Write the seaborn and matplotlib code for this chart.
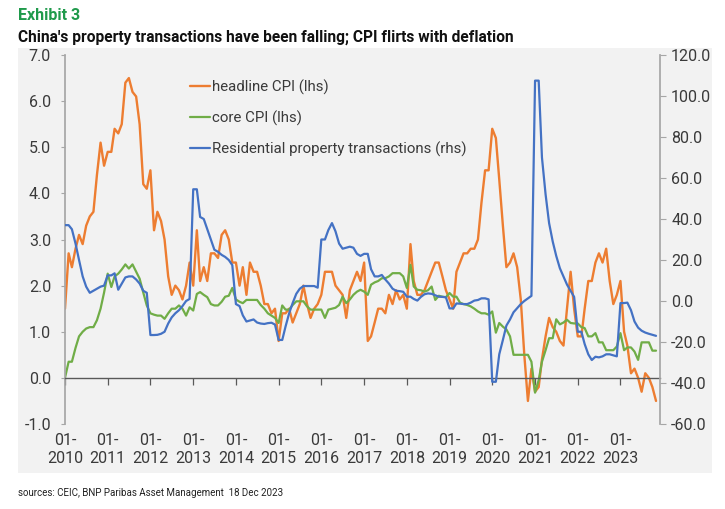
import matplotlib
matplotlib.use("Agg")
import matplotlib.pyplot as plt
import matplotlib.ticker as mticker
from matplotlib.patches import Rectangle
import seaborn as sns
import pandas as pd

# Data: monthly, Jan 2010 .. Nov 2023
start_month = "2010-01-01"

headline_cpi = [
    1.5, 2.7, 2.4, 2.8, 3.1, 2.9, 3.3, 3.5, 3.6, 4.4, 5.1, 4.6,
    4.9, 4.9, 5.4, 5.3, 5.5, 6.4, 6.5, 6.2, 6.1, 5.5, 4.2, 4.1,
    4.5, 3.2, 3.6, 3.4, 3.0, 2.2, 1.8, 2.0, 1.9, 1.7, 2.0, 2.5,
    2.0, 3.2, 2.1, 2.4, 2.1, 2.7, 2.7, 2.6, 3.1, 3.2, 3.0, 2.5,
    2.5, 2.0, 2.4, 1.8, 2.5, 2.3, 2.3, 2.0, 1.6, 1.6, 1.4, 1.5,
    0.8, 1.4, 1.4, 1.5, 1.2, 1.4, 1.6, 2.0, 1.6, 1.3, 1.5, 1.6,
    1.8, 2.3, 2.3, 2.3, 2.0, 1.9, 1.8, 1.3, 1.9, 2.1, 2.3, 2.1,
    2.5, 0.8, 0.9, 1.2, 1.5, 1.5, 1.4, 1.8, 1.6, 1.9, 1.7, 1.8,
    1.5, 2.9, 2.1, 1.8, 1.8, 1.9, 2.1, 2.3, 2.5, 2.5, 2.2, 1.9,
    1.7, 1.5, 2.3, 2.5, 2.7, 2.7, 2.8, 2.8, 3.0, 3.8, 4.5, 4.5,
    5.4, 5.2, 4.3, 3.3, 2.4, 2.5, 2.7, 2.4, 1.7, 0.5, -0.5, 0.2,
    -0.3, -0.2, 0.4, 0.9, 1.3, 1.1, 1.0, 0.8, 0.7, 1.5, 2.3, 1.5,
    0.9, 0.9, 1.5, 2.1, 2.1, 2.5, 2.7, 2.5, 2.8, 2.1, 1.6, 1.8,
    2.1, 1.0, 0.7, 0.1, 0.2, 0.0, -0.3, 0.1, 0.0, -0.2, -0.5,
]

core_cpi = [
    0.0, 0.35, 0.35, 0.65, 0.9, 1.0, 1.07, 1.1, 1.1, 1.25, 1.5, 1.85,
    2.26, 1.97, 2.2, 2.26, 2.35, 2.46, 2.37, 2.46, 2.3, 2.15, 1.85, 1.57,
    1.4, 1.37, 1.35, 1.35, 1.28, 1.4, 1.5, 1.5, 1.57, 1.5, 1.35, 1.53,
    1.46, 1.82, 1.86, 1.8, 1.75, 1.6, 1.57, 1.57, 1.65, 1.76, 1.78, 1.95,
    1.7, 1.65, 1.62, 1.69, 1.69, 1.69, 1.69, 1.58, 1.5, 1.4, 1.35, 1.3,
    1.19, 1.57, 1.48, 1.48, 1.58, 1.66, 1.66, 1.66, 1.55, 1.48, 1.48, 1.48,
    1.48, 1.3, 1.48, 1.5, 1.52, 1.58, 1.76, 1.62, 1.7, 1.8, 1.87, 1.91,
    1.87, 1.8, 2.02, 2.07, 2.1, 2.16, 2.16, 2.2, 2.27, 2.27, 2.27, 2.2,
    1.95, 2.45, 1.98, 1.91, 1.9, 1.87, 1.9, 1.98, 1.69, 1.78, 1.76, 1.75,
    1.84, 1.76, 1.76, 1.63, 1.6, 1.58, 1.55, 1.5, 1.44, 1.4, 1.4, 1.37,
    1.44, 0.98, 1.19, 1.11, 1.05, 0.9, 0.5, 0.5, 0.5, 0.5, 0.5, 0.35,
    -0.32, -0.05, 0.35, 0.6, 0.86, 0.86, 1.27, 1.16, 1.2, 1.26, 1.19, 1.18,
    1.18, 1.1, 1.08, 0.9, 0.9, 0.97, 0.77, 0.77, 0.6, 0.6, 0.6, 0.68,
    0.97, 0.6, 0.66, 0.66, 0.57, 0.39, 0.77, 0.77, 0.77, 0.59, 0.59,
]

property_tx = [
    37, 37, 35, 28, 20, 12, 7, 4, 5, 6, 7, 7.5,
    12.5, 12.5, 13.5, 5.5, 8.5, 11.5, 12, 12, 10.5, 8.5, 5, 4,
    -16.6, -16.6, -16.5, -16, -15, -11, -8, -6, -4.5, -2.5, 0, 1,
    54.5, 54.5, 41, 40, 35, 30, 25, 24, 22.5, 21.5, 20, 17.5,
    -1.5, -2.5, -7, -10, -9.5, -9, -10.5, -11, -11.2, -10.8, -10.6, -11.5,
    -19, -19, -12.5, -6, -1, 3.5, 6, 7.3, 7.3, 7.3, 7.3, 6.5,
    30, 30, 34.6, 38, 34, 28, 25.5, 26, 26.5, 26, 23, 22,
    23, 23, 15.5, 12, 12, 12.7, 10.5, 8.5, 6, 5, 4.8, 4.5,
    2.1, 2.1, 1, 0.2, 2, 3.3, 3.7, 3.5, 2.8, 2.1, 2, 1.8,
    -3.6, -3.6, -1.2, -1.3, -1.5, -1.5, -0.8, 0.2, 0.5, 1.3, 1.3, 0.8,
    -39.4, -39.4, -26, -19, -12, -9, -5.5, -3.5, -1.5, 0, 1.3, 2.5,
    107.5, 107.5, 70, 52, 38, 29, 22, 16, 12, 8, 5, 2,
    -15, -15, -21, -26, -28.8, -27.2, -27.5, -27, -26, -26, -26.5, -27,
    -1, -1, -0.8, -4.5, -10, -13, -14.5, -15.4, -16, -16.5, -17,
]

years = list(range(2010, 2024))
tick_labels = [f"01-\n{y}" for y in years]

series_names = [
    "headline CPI (lhs)",
    "core CPI (lhs)",
    "Residential property transactions (rhs)",
]
colors = ["#ED7D31", "#70AD47", "#4472C4"]

dates = pd.date_range(start_month, periods=len(headline_cpi), freq="MS")
df = pd.DataFrame({
    "date": dates,
    "headline": headline_cpi,
    "core": core_cpi,
    "property": property_tx,
})

sns.set_theme(style="white")
plt.rcParams["font.family"] = ["Roboto", "DejaVu Sans"]

fig = plt.figure(figsize=(7.25, 5.09), dpi=100)
fig.patch.set_facecolor("white")

# grey panel behind chart
fig.patches.append(
    Rectangle(
        (18 / 725, 1 - 473 / 509),
        (712 - 18) / 725,
        (473 - 48) / 509,
        transform=fig.transFigure,
        facecolor="#f2f2f2",
        edgecolor="none",
        zorder=-10,
    )
)

ax = fig.add_axes([65 / 725, 1 - 424 / 509, (660 - 65) / 725, (424 - 55) / 509])
ax.set_facecolor("none")
ax2 = ax.twinx()
ax2.set_facecolor("none")

sns.lineplot(data=df, x="date", y="headline", ax=ax, color=colors[0],
             linewidth=1.7, label=series_names[0], legend=False)
sns.lineplot(data=df, x="date", y="core", ax=ax, color=colors[1],
             linewidth=1.6, label=series_names[1], legend=False)
sns.lineplot(data=df, x="date", y="property", ax=ax2, color=colors[2],
             linewidth=1.6, label=series_names[2], legend=False)

ax.set_ylim(-1, 7)
ax2.set_ylim(-60, 120)
ax.set_xlim(dates[0], dates[-1] + pd.Timedelta(days=34))

ax.yaxis.set_major_locator(mticker.MultipleLocator(1))
ax.yaxis.set_major_formatter(mticker.FormatStrFormatter("%.1f"))
ax2.yaxis.set_major_locator(mticker.MultipleLocator(20))
ax2.yaxis.set_major_formatter(mticker.FormatStrFormatter("%.1f"))

tick_dates = pd.to_datetime([f"{y}-01-01" for y in years])
ax.set_xticks(tick_dates)
ax.set_xticklabels(tick_labels)

ax.set_xlabel("")
ax.set_ylabel("")
ax2.set_xlabel("")
ax2.set_ylabel("")

for a in (ax, ax2):
    a.spines["top"].set_visible(False)
ax2.spines["bottom"].set_visible(False)
ax2.spines["left"].set_visible(False)
ax.spines["right"].set_visible(False)

ax.spines["bottom"].set_position(("data", 0))
ax.spines["bottom"].set_color("#595959")
ax.spines["bottom"].set_linewidth(1.0)
ax.spines["left"].set_color("#a6a6a6")
ax2.spines["right"].set_color("#a6a6a6")

label_color = "#3a3a3a"
ax.tick_params(axis="x", direction="out", length=5, width=0.9,
               color="#595959", pad=35, labelsize=11.5, labelcolor=label_color,
               bottom=True)
ax.tick_params(axis="y", direction="out", length=3, width=0.8,
               color="#a6a6a6", labelsize=11.5, labelcolor=label_color, pad=7,
               left=True)
ax2.tick_params(axis="y", direction="out", length=4, width=0.8,
                color="#a6a6a6", labelsize=11.5, labelcolor=label_color, pad=4,
                right=True)

h1, l1 = ax.get_legend_handles_labels()
h2, l2 = ax2.get_legend_handles_labels()
leg = ax2.legend(h1 + h2, l1 + l2, loc="upper left",
                 bbox_to_anchor=(0.20, 0.95), frameon=False,
                 fontsize=10.8, handlelength=1.3, handletextpad=0.2,
                 labelspacing=1.05, borderaxespad=0)
for t in leg.get_texts():
    t.set_color(label_color)

fig.text(18 / 725, 1 - 16 / 509, "Exhibit 3", color="#1f9a4b",
         fontsize=11.5, fontweight="bold", va="center", ha="left")
fig.text(18 / 725, 1 - 37 / 509,
         "China's property transactions have been falling; CPI flirts with deflation",
         color="#111111", fontsize=11.2, fontweight="bold", va="center", ha="left")
fig.text(18 / 725, 1 - 493 / 509,
         "sources: CEIC, BNP Paribas Asset Management  18 Dec 2023",
         color="#222222", fontsize=7, va="center", ha="left")

fig.savefig("out.png", dpi=100)
